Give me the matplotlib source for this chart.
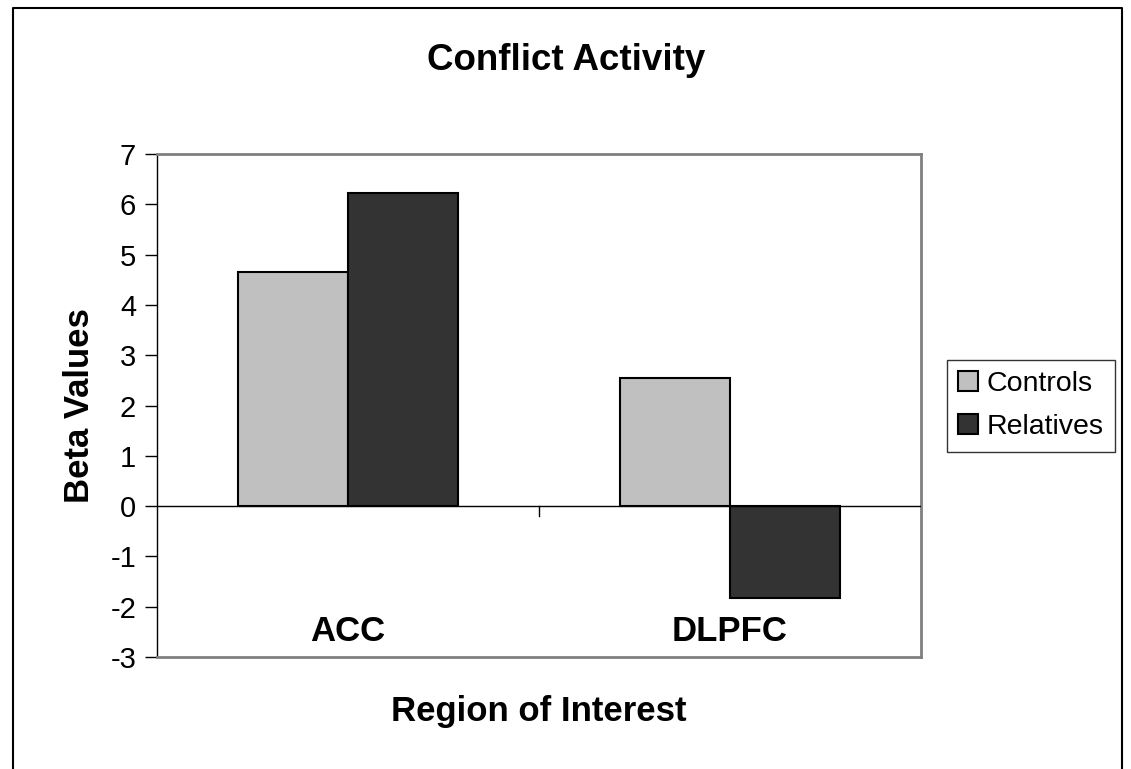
import matplotlib
matplotlib.use("Agg")
import matplotlib.pyplot as plt
from matplotlib.lines import Line2D

plt.rcParams['font.family'] = ['Liberation Sans', 'DejaVu Sans']

# data
regions = ["ACC", "DLPFC"]
controls = [4.65, 2.55]
relatives = [6.22, -1.82]
y_ticks = [-3, -2, -1, 0, 1, 2, 3, 4, 5, 6, 7]

fig = plt.figure(figsize=(11.31, 7.69), dpi=100)
ax = fig.add_axes([0.1388, 0.1456, 0.6755, 0.654])

w = 0.287
xs = range(len(regions))
ax.bar([x - w / 2 for x in xs], controls, w, color="#c0c0c0", edgecolor="black", linewidth=1.5, label="Controls")
ax.bar([x + w / 2 for x in xs], relatives, w, color="#333333", edgecolor="black", linewidth=1.5, label="Relatives")

ax.set_xlim(-0.5, 1.5)
ax.set_ylim(-3, 7)
ax.set_yticks(y_ticks)
ax.set_yticklabels([str(t) for t in y_ticks], fontsize=21)
ax.tick_params(axis="y", direction="out", length=9, width=1, pad=6)
ax.set_xticks([])

for s in ["top", "right", "bottom"]:
    ax.spines[s].set_color("#808080")
    ax.spines[s].set_linewidth(2)
ax.spines["left"].set_color("black")
ax.spines["left"].set_linewidth(1)

# zero line with category separator tick
ax.axhline(0, color="black", linewidth=1, zorder=3)
ax.plot([0.5, 0.5], [0, -0.2], color="black", linewidth=1)

for x, name in zip(xs, regions):
    ax.text(x, -2.5, name, ha="center", va="center", fontsize=25, fontweight="bold")

ax.set_ylabel("Beta Values", fontsize=25, fontweight="bold", labelpad=10)
fig.text(539 / 1131, 1 - 712 / 769, "Region of Interest", ha="center", va="center", fontsize=25, fontweight="bold")
fig.text(566 / 1131, 1 - 60 / 769, "Conflict Activity", ha="center", va="center", fontsize=26.5, fontweight="bold")

leg = ax.legend(loc="center left", bbox_to_anchor=(1.034, 0.5), fontsize=20.5, frameon=True,
                fancybox=False, handlelength=0.7, handleheight=0.7, handletextpad=0.3,
                borderpad=0.4, labelspacing=0.6, borderaxespad=0)
leg.get_frame().set_edgecolor("black")
leg.get_frame().set_linewidth(1)

# outer frame (no bottom edge visible)
x0, x1, yt = 12.5 / 1131, 1122 / 1131, 1 - 7.5 / 769
fig.add_artist(Line2D([x0, x0, x1, x1], [0, yt, yt, 0], color="black", linewidth=1.5, transform=fig.transFigure))

fig.savefig("out.png", dpi=100)
